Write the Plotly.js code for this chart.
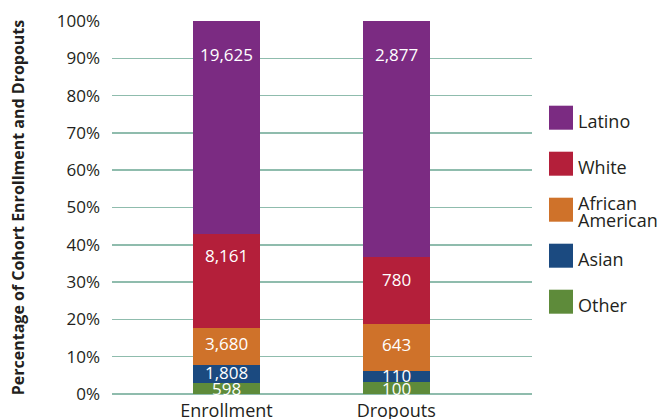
<!DOCTYPE html>
<html>
<head>
<meta charset="utf-8">
<script src="https://cdn.plot.ly/plotly-3.0.1.min.js"></script>
<style>html,body{margin:0;padding:0;background:#fff;}#chart{width:662px;height:419px;}</style>
</head>
<body>
<div id="chart"></div>
<script>
// ---- data ----
const categories = ['Enrollment', 'Dropouts'];
const seriesNames = ['Other', 'Asian', 'African American', 'White', 'Latino'];
// segment shares (percent of cohort), as drawn
const otherPct = [3.0, 3.2];
const asianPct = [4.8, 3.0];
const africanAmericanPct = [10.0, 12.6];
const whitePct = [25.1, 17.8];
const latinoPct = [57.1, 63.4];
// counts shown as labels
const otherCount = ['598', '100'];
const asianCount = ['1,808', '110'];
const africanAmericanCount = ['3,680', '643'];
const whiteCount = ['8,161', '780'];
const latinoCount = ['19,625', '2,877'];
const yTickVals = [0, 10, 20, 30, 40, 50, 60, 70, 80, 90, 100];
const yTickText = ['0%', '10%', '20%', '30%', '40%', '50%', '60%', '70%', '80%', '90%', '100%'];
const legendOrder = ['Latino', 'White', 'African American', 'Asian', 'Other'];

// ---- styles ----
const FONT = 'Open Sans, Noto Sans, sans-serif';
const TEXT = '#231f20';
const colors = {
  'Other': '#5e8b3a',
  'Asian': '#1b4a80',
  'African American': '#cf722a',
  'White': '#b41f3a',
  'Latino': '#7b2b82'
};
const labelStyle = {
  'Other': {mode: 'center', shift: 0},
  'Asian': {mode: 'center', shift: 1},
  'African American': {mode: 'center', shift: 3},
  'White': {mode: 'top', shift: -22},
  'Latino': {mode: 'top', shift: -33}
};

const pctBySeries = [otherPct, asianPct, africanAmericanPct, whitePct, latinoPct];
const countBySeries = [otherCount, asianCount, africanAmericanCount, whiteCount, latinoCount];

const traces = seriesNames.map((name, i) => ({
  type: 'bar',
  name: name,
  x: categories,
  y: pctBySeries[i],
  width: 0.394,
  marker: {color: colors[name], line: {width: 0}},
  hoverinfo: 'skip',
  showlegend: false
}));

const annotations = [];
categories.forEach((cat, j) => {
  let base = 0;
  seriesNames.forEach((name, i) => {
    const v = pctBySeries[i][j];
    const st = labelStyle[name];
    const yPos = st.mode === 'top' ? base + v : base + v / 2;
    annotations.push({
      x: cat, y: yPos, xref: 'x', yref: 'y',
      text: countBySeries[i][j], showarrow: false,
      xanchor: 'center', yanchor: 'middle', yshift: st.shift,
      font: {family: FONT, size: 17, color: '#ffffff'}
    });
    base += v;
  });
});

// custom legend
const shapes = [];
const plotTopPx = 21, plotH = 373;
legendOrder.forEach((name, k) => {
  const cy = 117.7 + 46 * k;
  const py = (plotTopPx + plotH - cy) / plotH;
  shapes.push({
    type: 'rect', xref: 'paper', yref: 'paper',
    xsizemode: 'pixel', ysizemode: 'pixel',
    xanchor: 1, yanchor: py,
    x0: 17, x1: 41, y0: -12, y1: 12,
    fillcolor: colors[name], line: {width: 0}
  });
  const lines = name === 'African American' ? ['African', 'American'] : [name];
  lines.forEach((ln, li) => {
    const off = lines.length === 1 ? -3 : (li === 0 ? 7 : -10);
    annotations.push({
      xref: 'paper', yref: 'paper', x: 1, y: py, xshift: 44, yshift: off,
      text: ln, showarrow: false, xanchor: 'left', yanchor: 'middle',
      font: {family: FONT, size: 18, color: TEXT}
    });
  });
});

const layout = {
  width: 662, height: 419,
  margin: {l: 112, r: 130, t: 21, b: 25, pad: 0},
  paper_bgcolor: '#ffffff', plot_bgcolor: '#ffffff',
  barmode: 'stack',
  showlegend: false,
  xaxis: {
    range: [-0.674, 1.8], showgrid: false, zeroline: false, showline: false,
    ticks: '', tickfont: {family: FONT, size: 18, color: TEXT},
    ticklabelstandoff: 4, fixedrange: true
  },
  yaxis: {
    range: [0, 100], tickvals: yTickVals, ticktext: yTickText,
    showgrid: true, gridcolor: '#8fbcad', gridwidth: 1.5,
    zeroline: true, zerolinecolor: '#8fbcad', zerolinewidth: 1.5,
    showline: false, ticks: '', ticklabelstandoff: 11,
    tickfont: {family: FONT, size: 17, color: TEXT},
    title: {text: 'Percentage of Cohort Enrollment and Dropouts', standoff: 28,
            font: {family: FONT, size: 16, color: TEXT, weight: 'bold'}},
    fixedrange: true
  },
  shapes: shapes,
  annotations: annotations
};

Plotly.newPlot('chart', traces, layout, {staticPlot: true, displayModeBar: false});
</script>
</body>
</html>
